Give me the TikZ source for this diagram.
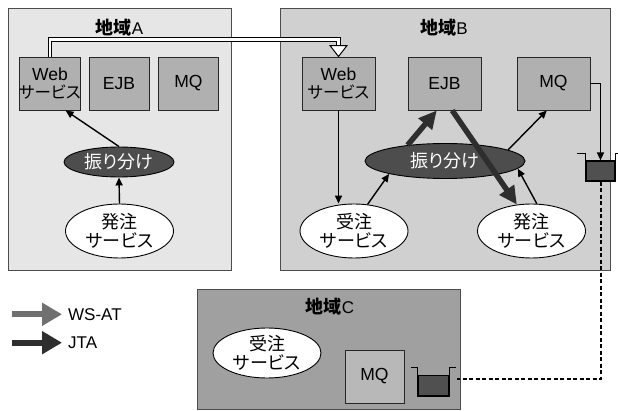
\documentclass[tikz,border=0pt]{standalone}
\usepackage{fontspec}
\setmainfont{Liberation Sans}
\newfontfamily\jp[RawFeature=+palt]{Noto Sans CJK JP}
\usetikzlibrary{shapes.geometric,arrows.meta,calc}
\definecolor{cA}{HTML}{E6E6E6}
\definecolor{cB}{HTML}{D0D0D0}
\definecolor{cC}{HTML}{A0A0A0}
\definecolor{boxgray}{HTML}{B0B0B0}
\definecolor{boxC}{HTML}{B8B8B8}
\definecolor{lbgray}{HTML}{4D4D4D}
\definecolor{jtagray}{HTML}{2E2E2E}
\definecolor{wsgray}{HTML}{707070}
\definecolor{liq}{HTML}{505050}
\newcommand\jbox[1]{{\jp\fontsize{16.5}{17.5}\selectfont #1}}
\newcommand\ttl[1]{{\jp\bfseries\fontsize{18}{20}\selectfont 地域}{\fontsize{17}{20}\selectfont #1}}
\begin{document}
\begin{tikzpicture}[x=1pt,y=-1pt,
  region/.style={rectangle, draw=black!70, line width=1pt, inner sep=0pt},
  ttlnode/.style={inner sep=0pt},
  comp/.style={rectangle, draw=black!85, line width=0.9pt, fill=boxgray, inner sep=0pt,
    minimum height=53pt, align=center, font=\fontsize{17.5}{17.5}\selectfont},
  svc/.style={ellipse, draw, line width=0.9pt, fill=white, inner sep=0pt,
    minimum width=108pt, minimum height=54pt, align=center, font=\jp\fontsize{18}{19}\selectfont},
  lb/.style={ellipse, draw, line width=0.9pt, fill=lbgray, text=white, inner sep=0pt,
    font=\jp\fontsize{18}{19}\selectfont},
  tarrow/.style={-{Triangle[width=7pt,length=8pt]}, line width=1.4pt},
  jta/.style={-{Triangle[width=17pt,length=18pt]}, line width=5.5pt, draw=jtagray},
  liquid/.style={rectangle, draw, line width=1.2pt, fill=liq, inner sep=0pt},
  cont/.style={draw, line width=1.2pt},
  dashline/.style={line width=2pt, dash pattern=on 4pt off 2.5pt},
  dbl/.style={draw=black, line width=1pt, double=white, double distance=2.5pt},
  openhead/.style={draw=black, line width=1pt, fill=white, line join=miter},
  legend/.style={anchor=west, inner xsep=6pt, inner ysep=0pt, font=\fontsize{17}{17}\selectfont},
  wsat/.style={-{Triangle[width=22pt,length=20pt]}, line width=6pt, draw=wsgray},
  jtal/.style={-{Triangle[width=22pt,length=20pt]}, line width=6pt, draw=jtagray}
]
\useasboundingbox (0,0) rectangle (618,411);

% regions
\node[region, fill=cA, minimum width=223pt, minimum height=262pt] (regA) at (119.5,140) {};
\node[region, fill=cB, minimum width=330pt, minimum height=262pt] (regB) at (445,140) {};
\node[region, fill=cC, minimum width=263pt, minimum height=119.5pt] (regC) at (328.5,349.75) {};
\node[ttlnode] (tA) at (119.5,28) {\ttl{A}};
\node[ttlnode] (tB) at (444,28) {\ttl{B}};
\node[ttlnode] (tC) at (330,307) {\ttl{C}};

% region A
\node[comp, minimum width=60pt] (webA) at (50,83.5) {Web\\\jbox{サービス}};
\node[comp, minimum width=60pt] (ejbA) at (119,83.5) {EJB};
\node[comp, minimum width=60pt] (mqA) at (188.5,83.5) {MQ};
\node[lb, minimum width=110pt, minimum height=30pt] (furiA) at (119,162) {振り分け};
\node[svc] (hatA) at (119.5,231) {発注\\サービス};

% region B
\node[comp, minimum width=73pt] (webB) at (338.5,83.5) {Web\\\jbox{サービス}};
\node[comp, minimum width=73pt] (ejbB) at (444.5,83.5) {EJB};
\node[comp, minimum width=73pt] (mqB) at (553.5,83.5) {MQ};
\node[lb, minimum width=160pt, minimum height=35pt] (furiB) at (445,161) {振り分け};
\node[svc] (juB) at (354,231) {受注\\サービス};
\node[svc] (hatB) at (531.5,231) {発注\\サービス};

% region C
\node[svc, minimum height=50pt] (juC) at (267,353) {受注\\サービス};
\node[comp, fill=boxC, minimum width=59pt] (mqC) at (374.5,376.5) {MQ};

% queues
\node[liquid, minimum width=29pt, minimum height=20pt] (qB) at (600.5,171) {};
\draw[cont] ($(qB.north west)+(-8,-7)$) -- ($(qB.north west)+(0,-7)$) -- (qB.south west)
  -- (qB.south east) -- ($(qB.north east)+(0,-7)$) -- ++(8,0);
\node[liquid, minimum width=31pt, minimum height=20pt] (qC) at (433.5,385.7) {};
\draw[cont] ($(qC.north west)+(-6,-7.5)$) -- ($(qC.north west)+(0,-7.5)$) -- (qC.south west)
  -- (qC.south east) -- ($(qC.north east)+(0,-7.5)$) -- ++(6,0);

% arrows A
\draw[tarrow] (furiA.north) -- (webA.-60);
\draw[tarrow] (hatA.north) -- (furiA.south);

% arrows B
\draw[tarrow] (webB.south) -- (webB.south |- juB.north);
\draw[tarrow] (juB.63) -- (furiB.-167);
\draw[tarrow] (hatB.79) -- (furiB.-6);
\draw[tarrow] (furiB.10) -- (mqB.-104);
\draw[jta] (furiB.157) -- (ejbB.-106);
\draw[jta] (ejbB.-74) -- (hatB.119);
\draw[tarrow] (mqB.east) -| (qB.north);

% dashed link to C
\coordinate (dashend) at (457,379.3);
\draw[dashline] (qB.south) |- (dashend);

% double connector A -> B
\draw[dbl] (webA.north) -- ++(0,-17) -| ($(webB.north)+(0,-10)$);
\draw[openhead] ($(webB.north)+(-8.5,-11)$) -- (webB.north) -- ($(webB.north)+(8.5,-11)$) -- cycle;

% legend
\coordinate (lgA) at (12,314.3);
\node[legend] (lgAt) at (62,314.3) {WS-AT};
\draw[wsat] (lgA) -- (lgAt.west);
\coordinate (lgJ) at (12,342.7);
\node[legend] (lgJt) at (62,342.7) {JTA};
\draw[jtal] (lgJ) -- (lgJt.west);
\end{tikzpicture}
\end{document}
